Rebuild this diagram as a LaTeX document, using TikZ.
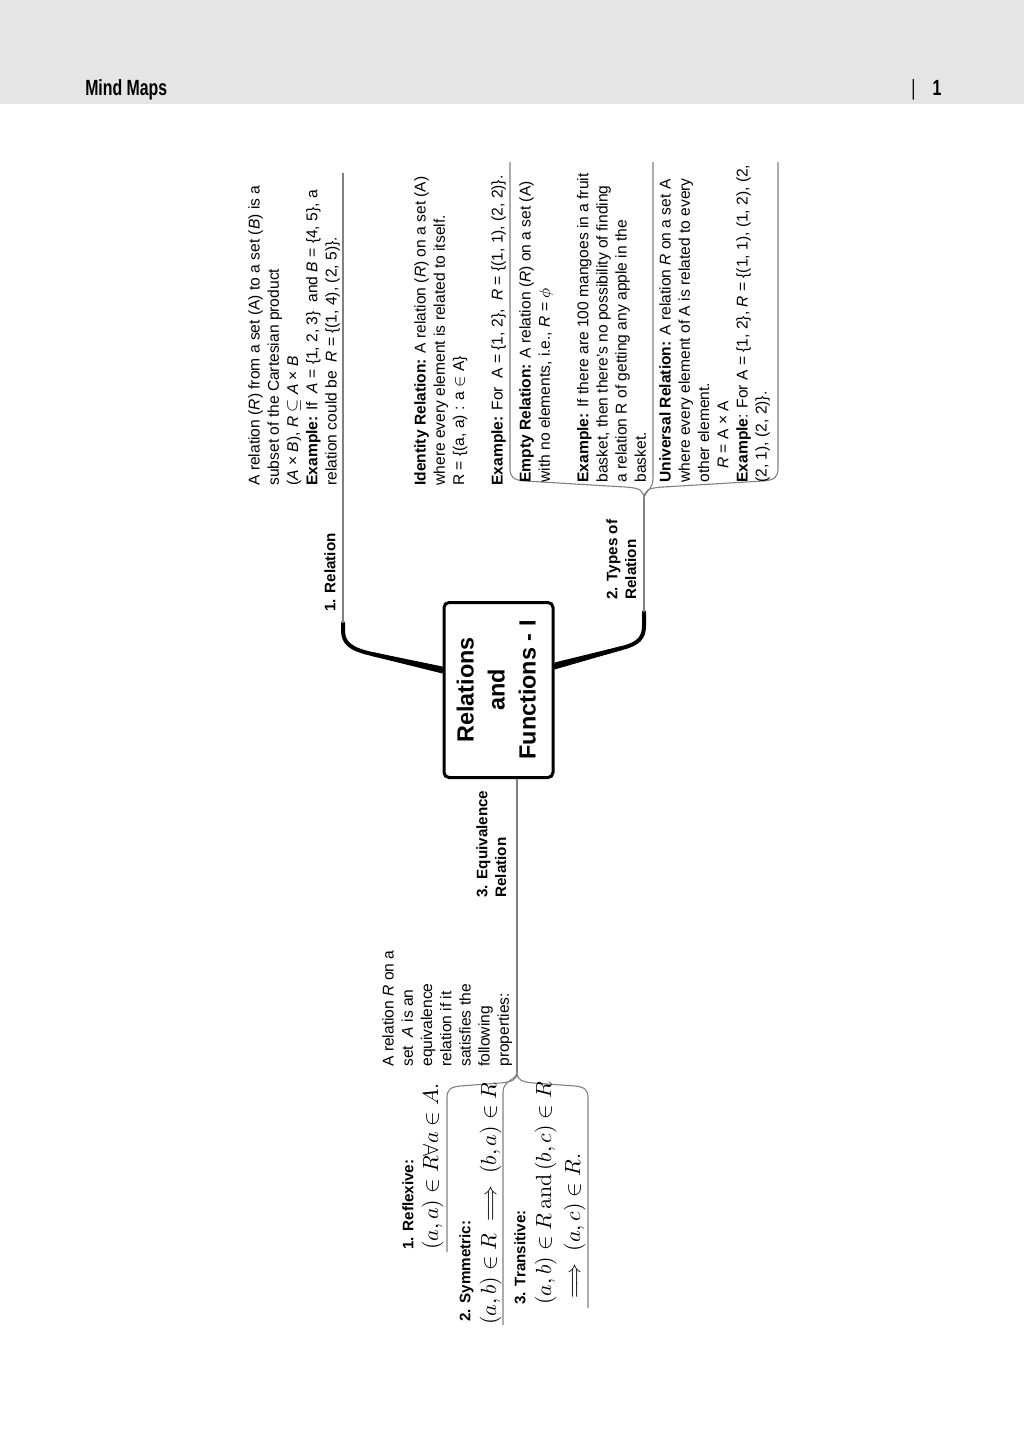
\documentclass[tikz,border=0pt]{standalone}
\usepackage{amsmath}
\usepackage[no-math]{fontspec}
\setmainfont{Liberation Sans}
\usetikzlibrary{calc}
\begin{document}
\begin{tikzpicture}[x=0.5pt,y=-0.5pt]
\tikzset{
  txt/.style={rotate=90, anchor=north west, inner sep=0pt, align=left, font=\fontsize{7.8}{9.6}\selectfont, execute at begin node={\rule{0pt}{7pt}}},
  lbl/.style={rotate=90, anchor=north west, inner sep=0pt, align=left, font=\bfseries\fontsize{7.6}{9.3}\selectfont, execute at begin node={\rule{0pt}{7pt}}},
  mth/.style={rotate=90, anchor=base west, inner sep=0pt, font=\fontsize{10.5}{12}\selectfont},
  branch/.style={draw=black!50, line width=0.55pt},
  mainconn/.style={draw=black, line width=2pt, line cap=round},
  taper/.style={fill=black},
  mainbox/.style={draw, line width=1.5pt, rounded corners=2.5pt, minimum width=54.5pt, minimum height=87.5pt, inner sep=0pt, font=\bfseries\fontsize{11.7}{15.5}\selectfont},
  header/.style={anchor=base west, inner sep=0pt, font=\bfseries\fontsize{11}{13}\selectfont, xscale=0.72}
}
\useasboundingbox (0,0) rectangle (1024,1440);
% header band
\fill[black!10] (0,0) rectangle (1024,104);
\node[header] (hd) at (85,95) {Mind Maps};
\node[header] (pg) at (911,95) {{\mdseries|}\hspace{12pt}1};

% central box
\node[mainbox] (box) at (498.5,690) {\rotatebox{90}{\begin{tabular}{@{}c@{}}Relations\\and\\Functions - I\end{tabular}}};

% branch coordinates
\coordinate (r1) at (343,623);
\coordinate (r1top) at (343,173);
\coordinate (r2) at (644,612);
\coordinate (t2) at (644,500);
\coordinate (t3) at (517,1072);

% main connectors
\draw[mainconn] ($(box.west)+(0,-20)$) -- (372,654) .. controls (350,649) and (343,643) .. (343,630) -- (r1);
\fill[taper] ($(box.west)+(0,-23.5)$) -- (372,652) -- (372,656) -- ($(box.west)+(0,-16.5)$) -- cycle;
\draw[mainconn] ($(box.east)+(0,-24)$) -- (622,648) .. controls (638,644) and (644,638) .. (644,626) -- (r2);
\fill[taper] ($(box.east)+(0,-27.5)$) -- (622,646) -- (622,650) -- ($(box.east)+(0,-20.5)$) -- cycle;
\draw[branch] (r1) -- (r1top);
\draw[branch] (r2) -- (t2);
\draw[branch] (box.south -| t3) -- (t3);

% brace of types
\draw[branch] (t2) .. controls (644,490) and (640,488) .. (625,487) -- (525,481) .. controls (513,480) and (510,477) .. (510,468) -- (510,162);
\draw[branch] (t2) .. controls (644,490) and (653,491) .. (653,478) -- (653,162);
\draw[branch] (t2) .. controls (644,490) and (648,488) .. (663,487) -- (763,481) .. controls (775,480) and (778,477) .. (778,468) -- (778,162);

% brace of equivalence
\draw[branch] (t3) .. controls (517,1080) and (512,1082) .. (500,1083) -- (460,1086) .. controls (450,1087) and (447,1090) .. (447,1098) -- (447,1252);
\draw[branch] (t3) .. controls (517,1080) and (503,1080) .. (503,1092) -- (503,1325);
\draw[branch] (t3) .. controls (517,1080) and (522,1082) .. (534,1083) -- (575,1086) .. controls (585,1087) and (588,1090) .. (588,1098) -- (588,1308);

% labels
\node[lbl] (l1) at (321,612) {1. Relation};
\node[lbl] (l2) at (606,600) {2. Types of\\Relation};
\node[lbl] (l3) at (476,898) {3. Equivalence\\Relation};

% relation text
\node[txt] (trel) at (248,486) {A relation (\textit{R}) from a set (A) to a set (\textit{B}) is a\\
subset of the Cartesian product\\
(\textit{A} × \textit{B}), \textit{R} $\subseteq$ \textit{A} × \textit{B}\\
\textbf{Example:} If\ \ \textit{A} = \{1, 2, 3\}\ \ and \textit{B} = \{4, 5\}, a\\
relation could be\ \ \textit{R} = \{(1, 4), (2, 5)\}.};

% types texts
\node[txt] (tid) at (414,486) {\textbf{Identity Relation:} A relation (\textit{R}) on a set (A)\\
where every element is related to itself.\\
R = \{(a, a) : a $\in$ A\}\\[9.6pt]
\textbf{Example:} For\ \ A = \{1, 2\},\ \ \textit{R} = \{(1, 1), (2, 2)\}.};

\node[txt] (temp) at (519,483) {\textbf{Empty Relation:} A relation (\textit{R}) on a set (A)\\
with no elements, i.e., \textit{R} = $\phi$\\[9.6pt]
\textbf{Example:} If there are 100 mangoes in a fruit\\
basket, then there’s no possibility of finding\\
a relation R of getting any apple in the\\
basket.};

\node[txt] (tuni) at (659,483) {\textbf{Universal Relation:} A relation \textit{R} on a set A\\
where every element of A is related to every\\
other element.\\
\hspace{7pt}\textit{R} = A × A\\
\textbf{Example}: For A = \{1, 2\}, \textit{R} = \{(1, 1), (1, 2), (2,\\
(2, 1), (2, 2)\}.};

% equivalence text
\node[txt] (teq) at (382,1067) {A relation \textit{R} on a\\
set\ \ \textit{A} is an\\
equivalence\\
relation if it\\
satisfies the\\
following\\
properties:};

\node[lbl] (lrefl) at (399,1250) {1. Reflexive:};
\node[mth] (mrefl) at (438,1250) {$(a,a)\in R\forall a\in A.$};
\node[lbl] (lsym) at (456,1322) {2. Symmetric:};
\node[mth] (msym) at (496,1325) {$(a,b)\in R\implies (b,a)\in R$};
\node[lbl] (ltra) at (511,1305) {3. Transitive:};
\node[mth] (mtra1) at (551,1305) {$(a,b)\in R\,\mathrm{and}\,(b,c)\in R$};
\node[mth] (mtra2) at (580,1305) {$\implies (a,c)\in R.$};
\end{tikzpicture}
\end{document}
